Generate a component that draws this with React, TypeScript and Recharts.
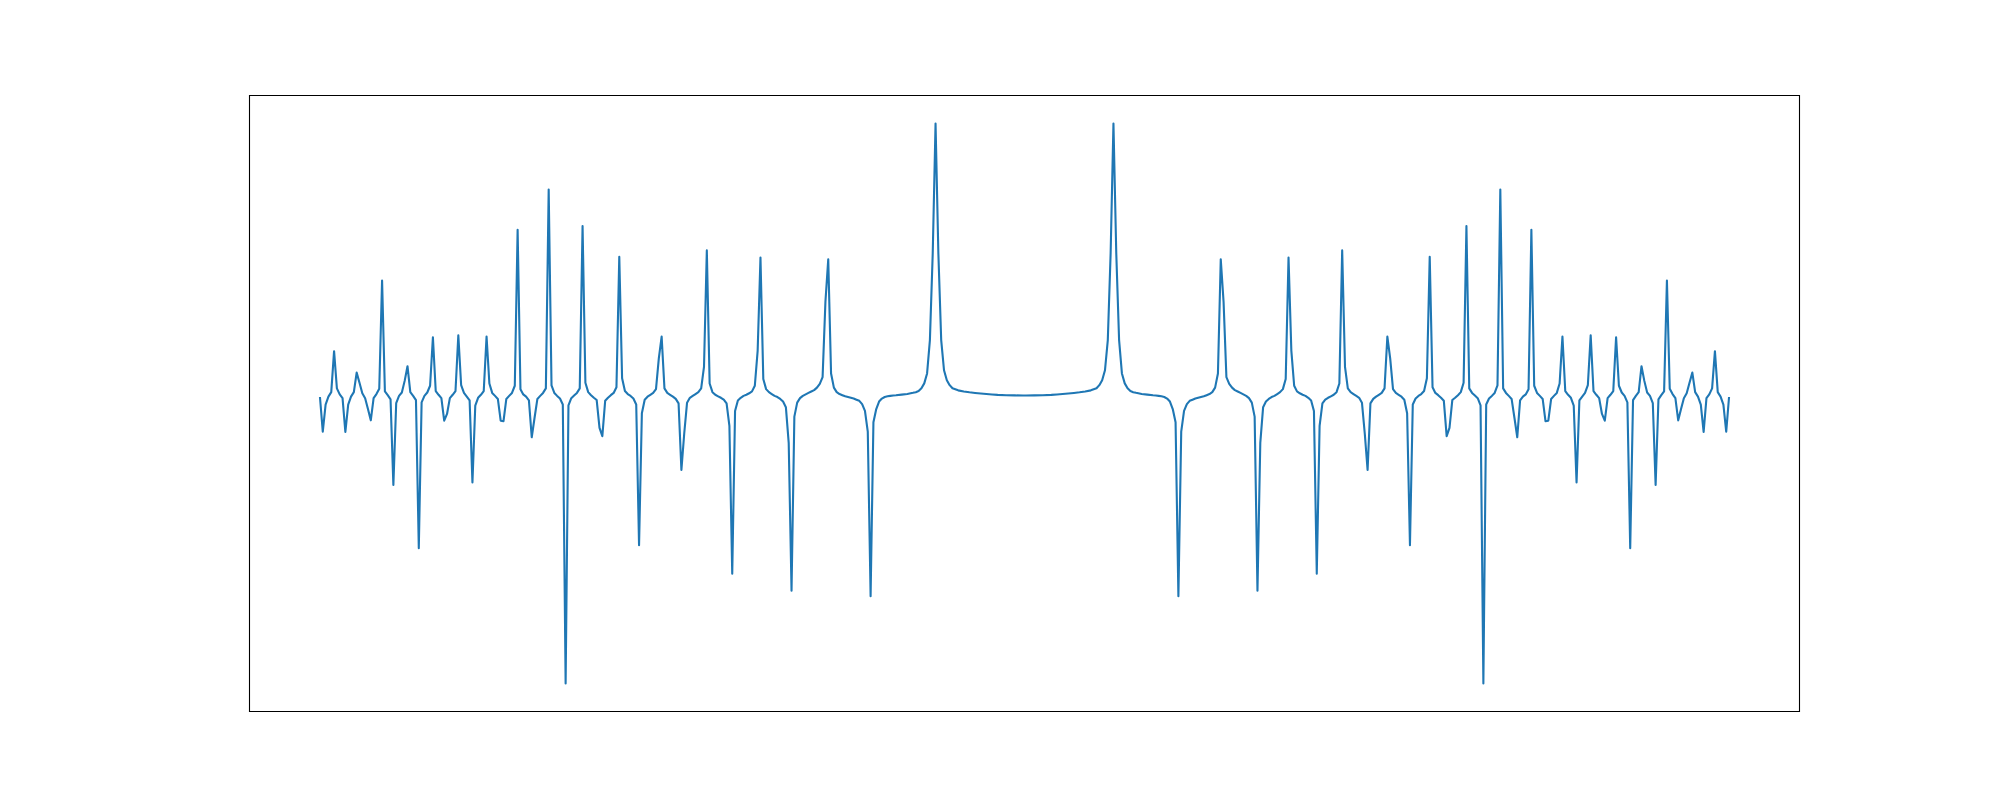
import React from "react";
import { LineChart, Line, XAxis, YAxis, ReferenceArea } from "recharts";

// Sample index (0..499) of the left half of the curve.
const leftIndex: number[] = [
  0, 1, 2, 3, 4, 5, 6, 7, 8, 9, 10, 11, 12, 13, 14, 15, 16, 17, 18, 19,
  20, 21, 22, 23, 24, 25, 26, 27, 28, 29, 30, 31, 32, 33, 34, 35, 36, 37, 38, 39,
  40, 41, 42, 43, 44, 45, 46, 47, 48, 49, 50, 51, 52, 53, 54, 55, 56, 57, 58, 59,
  60, 61, 62, 63, 64, 65, 66, 67, 68, 69, 70, 71, 72, 73, 74, 75, 76, 77, 78, 79,
  80, 81, 82, 83, 84, 85, 86, 87, 88, 89, 90, 91, 92, 93, 94, 95, 96, 97, 98, 99,
  100, 101, 102, 103, 104, 105, 106, 107, 108, 109, 110, 111, 112, 113, 114, 115, 116, 117, 118, 119,
  120, 121, 122, 123, 124, 125, 126, 127, 128, 129, 130, 131, 132, 133, 134, 135, 136, 137, 138, 139,
  140, 141, 142, 143, 144, 145, 146, 147, 148, 149, 150, 151, 152, 153, 154, 155, 156, 157, 158, 159,
  160, 161, 162, 163, 164, 165, 166, 167, 168, 169, 170, 171, 172, 173, 174, 175, 176, 177, 178, 179,
  180, 181, 182, 183, 184, 185, 186, 187, 188, 189, 190, 191, 192, 193, 194, 195, 196, 197, 198, 199,
  200, 201, 202, 203, 204, 206, 208, 210, 211, 212, 213, 214, 215, 216, 217, 218, 219, 220, 221, 222,
  223, 224, 226, 228, 230, 232, 234, 236, 238, 240, 243, 246, 249,
];

// Values of the left half.
const leftValue: number[] = [
  -0.33, -8.0, -2.0, -0.25, 0.75, 9.83, 1.58, 0.25, -0.58, -8.08, -2.0, -0.25, 0.75, 5.08, 2.83, 0.5, -0.58, -3.0, -5.5, -0.58,
  0.33, 1.5, 25.5, 0.92, 0.08, -0.83, -19.83, -1.67, -0.08, 0.67, 3.25, 6.5, 0.75, -0.08, -1.0, -33.83, -1.5, -0.08, 0.67, 2.17,
  12.92, 1.0, 0.17, -0.58, -5.58, -4.08, -0.58, 0.17, 1.0, 13.33, 2.33, 0.58, -0.25, -1.08, -19.25, -2.25, -0.5, 0.17, 1.0, 13.08,
  2.67, 0.58, -0.08, -0.75, -5.58, -5.67, -0.75, -0.08, 0.58, 2.17, 36.75, 1.42, 0.25, -0.25, -1.08, -9.25, -4.92, -0.75, -0.08, 0.58,
  1.58, 45.67, 2.25, 0.58, -0.08, -0.67, -2.0, -63.83, -2.17, -0.58, 0, 0.58, 1.58, 37.58, 2.83, 0.75, 0.08, -0.5, -1.0, -7.17,
  -9.0, -1.17, -0.5, 0.08, 0.58, 1.83, 30.75, 3.83, 1.0, 0.33, -0.08, -0.67, -2.0, -33.17, -3.92, -0.92, -0.25, 0.17, 0.58, 1.42,
  8.25, 13.08, 1.58, 0.58, 0.17, -0.25, -0.75, -1.75, -16.5, -8.42, -1.58, -0.5, -0.08, 0.33, 0.75, 1.58, 6.33, 32.17, 2.67, 0.75,
  0.17, -0.17, -0.5, -0.92, -1.75, -6.75, -39.5, -3.42, -1.08, -0.5, -0.08, 0.17, 0.5, 0.92, 2.17, 9.9, 30.6, 3.67, 1.42, 0.75,
  0.33, -0.08, -0.33, -0.75, -1.33, -2.58, -10.5, -43.25, -4.67, -1.58, -0.58, -0.08, 0.25, 0.58, 0.9, 1.2, 1.75, 2.6, 4.1, 20.75,
  30.2, 4.9, 1.75, 0.75, 0.33, 0.08, -0.17, -0.33, -0.5, -0.67, -0.92, -1.17, -1.92, -3.42, -8.0, -44.5, -5.92, -3.0, -1.33, -0.67,
  -0.33, -0.17, -0.08, 0, 0.05, 0.2, 0.35, 0.6, 0.75, 1.0, 1.6, 2.7, 4.9, 12.3, 31.5, 60.3, 31.5, 12.3, 5.6, 3.4,
  2.3, 1.6, 1.15, 0.9, 0.72, 0.58, 0.45, 0.33, 0.23, 0.15, 0.08, 0.03, 0.0,
];

const LAST_INDEX = 499;

// The curve is mirror-symmetric: the right half repeats the left half.
const data: { k: number; y: number }[] = [];
leftIndex.forEach((k, i) => data.push({ k, y: leftValue[i] }));
for (let i = leftIndex.length - 1; i >= 0; i--) {
  data.push({ k: LAST_INDEX - leftIndex[i], y: leftValue[i] });
}

const yMin = Math.min(...leftValue);
const yMax = Math.max(...leftValue);
const yPad = (yMax - yMin) * 0.05;
const xPad = LAST_INDEX * 0.05;
const xDomain: [number, number] = [-xPad, LAST_INDEX + xPad];
const yDomain: [number, number] = [yMin - yPad, yMax + yPad];

export default function App() {
  return (
    <div style={{ position: "absolute", left: 0, top: 0, width: 2000, height: 800, background: "#fff" }}>
      <LineChart
        width={2000}
        height={800}
        data={data}
        margin={{ top: 95.5, right: 200.5, bottom: 88.5, left: 249.5 }}
      >
        <XAxis dataKey="k" type="number" domain={xDomain} hide allowDataOverflow />
        <YAxis type="number" domain={yDomain} hide allowDataOverflow />
        <ReferenceArea
          x1={xDomain[0]}
          x2={xDomain[1]}
          y1={yDomain[0]}
          y2={yDomain[1]}
          fill="none"
          fillOpacity={0}
          stroke="#000"
          strokeWidth={1.1}
          strokeOpacity={1}
          ifOverflow="extendDomain"
        />
        <Line
          type="linear"
          dataKey="y"
          stroke="#1f77b4"
          strokeWidth={2.1}
          strokeLinejoin="round"
          dot={false}
          activeDot={false}
          isAnimationActive={false}
        />
      </LineChart>
    </div>
  );
}
